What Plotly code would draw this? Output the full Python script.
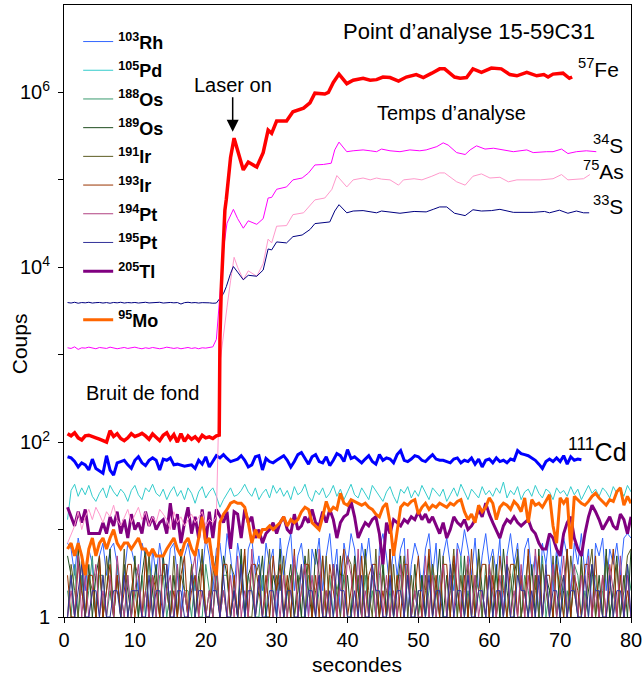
import plotly.graph_objects as go

# ---------------- time grid (s) ----------------
t = [0.5 * i for i in range(1, 161)]  # 0.5 ... 80.0

# ---------------- main signals ----------------
fe_bg = [125, 118, 128, 112, 106, 118, 120, 117, 112, 108, 104, 100, 135, 116, 125, 110, 104, 112, 125, 116,
         120, 126, 118, 108, 124, 112, 104, 120, 128, 108, 122, 100, 125, 102, 118, 108, 115, 104, 120, 112,
         115, 110, 118]
fe_sig_t = [21.9, 22.0, 22.2, 22.7, 22.9, 23.5, 24.0, 24.5, 25.3, 26.0, 27.2, 28.1, 28.8, 29.3, 30.0, 31.4,
            32.3, 33.8, 34.7, 35.4, 36.8, 37.3, 38.0, 38.8, 39.9, 40.8, 42.2, 43.2, 44.1, 45.0, 46.0, 47.2,
            48.3, 49.7, 50.7, 51.9, 53.0, 53.7, 55.1, 55.9, 56.8, 57.7, 58.9, 60.3, 61.7, 62.9, 63.9, 65.3,
            66.7, 67.7, 68.3, 69.0, 70.4, 71.3, 71.7]
fe_sig_v = [120, 1500, 6000, 45000, 60000, 180000, 300000, 220000, 130000, 160000, 140000, 205000, 370000,
            340000, 470000, 470000, 600000, 660000, 760000, 980000, 960000, 1000000, 1300000, 1620000,
            1260000, 1380000, 1450000, 1380000, 1400000, 1500000, 1480000, 1350000, 1500000, 1600000,
            1480000, 1660000, 1860000, 1860000, 1500000, 1450000, 1480000, 1860000, 1700000, 1900000,
            1860000, 1600000, 1550000, 1700000, 1550000, 1600000, 1500000, 1620000, 1660000, 1450000, 1500000]

s34_bg = [1200, 1180, 1230, 1150, 1200, 1190, 1220, 1190, 1170, 1210, 1200, 1180, 1220, 1200, 1170, 1190,
          1210, 1180, 1200, 1220, 1190, 1170, 1200, 1180, 1210, 1200, 1170, 1190, 1220, 1200, 1180, 1200,
          1170, 1190, 1210, 1180, 1200, 1170, 1200, 1190, 1220, 1230]
s34_sig_t = [21.5, 22.0, 22.5, 23.0, 23.9, 24.5, 25.3, 26.0, 27.2, 28.1, 28.8, 29.3, 30.0, 31.4, 32.3, 33.6,
             34.5, 35.4, 36.6, 37.7, 38.2, 38.8, 39.9, 40.8, 42.2, 43.2, 44.1, 44.8, 46.0, 47.4, 48.8, 50.2,
             51.1, 52.6, 53.5, 54.2, 55.4, 56.6, 57.3, 58.2, 59.4, 60.6, 62.0, 63.4, 65.3, 66.2, 68.1, 69.0,
             70.2, 71.1, 72.3, 73.7, 75.1]
s34_sig_v = [1500, 5000, 16000, 32000, 46000, 36000, 28000, 34000, 31000, 36000, 62000, 63000, 78000, 83000,
             100000, 105000, 120000, 148000, 150000, 155000, 220000, 270000, 210000, 215000, 220000, 215000,
             210000, 225000, 215000, 210000, 220000, 215000, 220000, 240000, 265000, 250000, 205000, 195000,
             220000, 245000, 225000, 230000, 220000, 210000, 220000, 205000, 210000, 210000, 225000, 200000,
             210000, 215000, 210000]

as75_bg = [7, 9, 11, 16, 10, 14, 17, 13, 18, 15, 12, 16, 14, 19, 13, 11, 14, 17, 12, 15, 18, 13, 16, 11, 14,
           12, 17, 15, 13, 10, 16, 12, 14, 11, 13, 15, 12, 14, 16, 11, 13, 12, 14]
as75_sig_t = [22.0, 22.5, 23.0, 23.5, 24.0, 24.5, 25.3, 26.0, 27.2, 28.1, 28.8, 29.3, 30.0, 31.4, 32.3, 33.8,
              34.5, 35.4, 36.8, 37.8, 38.5, 39.2, 39.9, 40.8, 42.2, 43.2, 44.1, 44.8, 46.0, 47.2, 47.9, 49.4,
              50.5, 51.9, 53.0, 53.7, 55.4, 56.6, 57.7, 58.9, 60.1, 61.5, 62.7, 63.9, 65.8, 67.2, 69.0, 70.2,
              71.1, 72.3, 73.3, 74.2]
as75_sig_v = [800, 1800, 3500, 7000, 13000, 10000, 7200, 9100, 7900, 11000, 21000, 19000, 29500, 30000, 40000,
              42000, 49000, 59000, 62000, 78000, 112000, 95000, 83000, 100000, 105000, 100000, 105000, 102000,
              100000, 87000, 100000, 103000, 100000, 110000, 120000, 120000, 95000, 87000, 110000, 117000,
              105000, 107000, 95000, 100000, 100000, 100000, 103000, 115000, 100000, 102000, 103000, 115000]

s33_bg = [3950, 3900, 3980, 3880, 3950, 3920, 3980, 3900, 3940, 3960, 3900, 3950, 3880, 3960, 3920, 3980,
          3900, 3950, 3920, 3960, 3900, 3940, 3980, 3910, 3950, 3930, 3980, 3900, 3940, 3960, 3920, 3950,
          3800, 3940, 3980, 3920, 3950, 3900, 3940, 3960, 3920, 3880, 3900]
s33_sig_t = [22.5, 22.9, 23.5, 23.9, 24.5, 25.3, 26.0, 27.2, 28.1, 28.8, 29.3, 30.0, 31.4, 32.3, 33.6, 34.7,
             35.4, 37.5, 38.2, 38.8, 39.9, 40.8, 42.2, 43.2, 44.1, 44.8, 46.0, 47.4, 49.4, 51.1, 52.1, 53.0,
             54.0, 55.1, 56.6, 57.7, 58.9, 60.3, 61.5, 63.4, 66.2, 67.8, 68.5, 69.9, 71.1, 72.3, 73.3, 74.1]
s33_sig_v = [5000, 6000, 8500, 10200, 8800, 7200, 8100, 7900, 9300, 16200, 15800, 19500, 19000, 22400, 23400,
             27000, 31600, 33000, 44000, 52000, 42000, 44000, 44500, 43000, 42000, 44000, 42500, 41500, 43500,
             43000, 46000, 49000, 49000, 41500, 39000, 45500, 44000, 44500, 46000, 42500, 42500, 43500, 42000,
             45000, 41500, 44000, 42000, 42000]

cd111 = [68, 66, 60, 52, 58, 55, 48, 64, 50, 47, 44, 70, 48, 42, 58, 60, 62, 55, 50, 62,
         68, 58, 54, 62, 66, 62, 48, 64, 62, 66, 55, 56, 54, 53, 54, 55, 50, 62, 56, 68,
         52, 60, 70, 66, 72, 65, 60, 62, 64, 70, 62, 52, 55, 68, 70, 48, 65, 60, 58, 62,
         66, 70, 62, 52, 60, 72, 76, 64, 56, 68, 72, 60, 58, 68, 54, 62, 74, 70, 60, 82,
         65, 68, 62, 58, 64, 70, 60, 56, 72, 62, 66, 64, 58, 72, 80, 62, 60, 64, 70, 68,
         62, 60, 66, 72, 64, 62, 62, 60, 58, 64, 66, 58, 62, 60, 66, 56, 64, 52, 62, 64,
         58, 66, 60, 62, 58, 64, 62, 80, 74, 72, 70, 66, 62, 56, 50, 60, 64, 60, 66, 60,
         70, 56, 68, 62, 64, 63]

# ---------------- background / trace elements ----------------
pd105 = [13, 28, 33, 24, 30, 25, 32, 24, 21, 26, 30, 23, 32, 27, 24, 29, 26, 21, 28, 32,
         25, 22, 30, 27, 33, 26, 24, 29, 22, 27, 31, 24, 28, 22, 30, 26, 20, 27, 31, 23,
         27, 30, 24, 18, 22, 26, 30, 24, 25, 28, 33, 27, 24, 30, 22, 26, 29, 23, 32, 26,
         30, 24, 28, 22, 31, 25, 27, 33, 24, 21, 28, 25, 30, 23, 26, 32, 24, 29, 22, 27,
         33, 25, 23, 30, 26, 22, 32, 28, 24, 21, 27, 31, 24, 20, 29, 26, 31, 23, 28, 24,
         32, 26, 22, 30, 27, 24, 29, 21, 25, 30, 24, 33, 27, 22, 29, 26, 23, 31, 25, 28,
         24, 30, 26, 35, 23, 28, 25, 31, 22, 27, 29, 24, 32, 26, 23, 29, 27, 22, 30, 26,
         28, 24, 31, 25, 29, 22, 27, 32, 26, 29, 24, 30, 27, 23, 31, 26, 29, 24, 32, 27]

tl205 = [18, 14, 11, 16, 12, 17, 9, 9, 9, 9, 12, 9, 14, 11, 16, 9, 13, 8, 15, 10,
         12, 9, 16, 11, 14, 10, 12, 13, 9, 20, 10, 15, 7, 12, 18, 9, 14, 8, 17, 7,
         16, 8, 17, 14, 12, 16, 6, 16, 15, 8, 17, 12, 14, 8, 10, 7, 9, 10, 12, 9,
         12, 14, 10, 9, 15, 10, 11, 14, 12, 17, 12, 11, 16, 12, 17, 13, 8, 12, 14, 15,
         21, 14, 8, 10, 12, 11, 13, 14, 9, 4, 12, 9, 13, 12, 11, 13, 12, 14, 13, 16,
         13, 15, 12, 14, 11, 9, 12, 8, 10, 14, 12, 11, 13, 10, 11, 13, 17, 14, 20, 15,
         12, 10, 8, 11, 13, 12, 14, 12, 11, 12, 13, 10, 9, 7, 6, 6, 9, 8, 6, 5,
         9, 12, 14, 8, 6, 5, 9, 14, 19, 16, 13, 10, 12, 14, 11, 10, 15, 13, 9, 14]

mo95 = [6, 7, 5, 7, 5, 3, 6, 8, 5, 7, 8, 6, 8, 10, 7, 6, 7, 7, 6, 7,
        8, 6, 6, 5, 6, 5, 5, 5, 6, 7, 8, 6, 5, 7, 8, 6, 5, 8, 14, 7,
        8, 4, 3, 12, 15, 17, 20, 21, 20, 20, 18, 12, 7, 10, 8, 10, 10, 11, 10, 11,
        12, 14, 11, 13, 12, 13, 16, 18, 17, 12, 11, 10, 14, 21, 16, 18, 17, 26, 20, 19,
        22, 21, 20, 19, 20, 18, 17, 15, 14, 18, 20, 12, 5, 9, 18, 20, 19, 21, 22, 15,
        18, 20, 17, 19, 18, 20, 19, 18, 20, 19, 21, 22, 16, 13, 15, 12, 19, 16, 18, 23,
        20, 13, 18, 20, 19, 17, 21, 19, 16, 23, 12, 22, 19, 20, 18, 21, 25, 11, 7, 23,
        20, 23, 6, 24, 22, 20, 19, 21, 24, 26, 23, 21, 19, 22, 21, 27, 30, 19, 24, 20]

rh103 = [7, 6, 3, 8, 5, 2, 6, 4, 1, 5, 7, 3, 6, 7, 4, 1, 3, 7, 6, 4,
         2, 7, 5, 1, 6, 3, 7, 4, 2, 6, 7, 3, 1, 5, 7, 4, 2, 6, 3, 8,
         5, 2, 6, 7, 3, 9, 5, 2, 7, 4, 1, 6, 8, 3, 5, 2, 7, 4, 6, 1,
         8, 3, 6, 9, 2, 5, 7, 3, 1, 6, 4, 8, 2, 5, 9, 3, 6, 1, 7, 4,
         9, 6, 2, 7, 4, 8, 3, 1, 6, 9, 5, 2, 7, 3, 6, 8, 1, 4, 7, 5,
         2, 6, 9, 3, 7, 1, 5, 8, 4, 2, 7, 5, 10, 6, 3, 8, 2, 5, 9, 4,
         6, 3, 8, 1, 5, 9, 4, 7, 2, 6, 8, 3, 5, 1, 7, 4, 9, 2, 6, 3,
         8, 5, 2, 7, 4, 9, 3, 6, 1, 7, 5, 8, 2, 6, 4, 7, 3, 8, 9, 8]

os188 = [2, 1, 4, 1, 3, 1, 2, 5, 1, 3, 3, 1, 2, 1, 4, 2, 1, 3, 1, 2,
         1, 3, 1, 5, 2, 1, 3, 3, 1, 2, 1, 4, 1, 2, 2, 1, 3, 1, 1, 4,
         2, 1, 3, 1, 3, 3, 1, 2, 1, 5, 1, 3, 2, 1, 1, 3, 1, 4, 2, 1,
         3, 1, 2, 1, 4, 3, 1, 1, 3, 2, 1, 2, 5, 1, 3, 1, 2, 3, 3, 1,
         1, 4, 2, 1, 3, 1, 2, 1, 3, 5, 1, 2, 1, 3, 3, 1, 4, 1, 2, 1,
         3, 1, 2, 4, 1, 3, 1, 1, 2, 3, 1, 5, 1, 2, 1, 3, 2, 1, 4, 1,
         2, 3, 1, 3, 1, 2, 4, 1, 1, 3, 2, 1, 3, 1, 5, 1, 2, 3, 1, 3,
         1, 2, 1, 4, 3, 1, 2, 1, 3, 3, 1, 2, 5, 1, 2, 1, 3, 1, 4, 2]

os189 = [5, 3, 1, 6, 2, 1, 4, 1, 3, 5, 1, 2, 6, 1, 3, 1, 4, 2, 1, 5,
         1, 3, 6, 1, 2, 4, 1, 5, 2, 1, 3, 1, 6, 2, 1, 4, 1, 3, 5, 1,
         2, 1, 4, 1, 5, 3, 1, 2, 1, 6, 1, 3, 4, 1, 2, 5, 1, 1, 3, 2,
         6, 1, 2, 4, 1, 3, 1, 5, 2, 1, 6, 3, 1, 2, 1, 4, 1, 5, 1, 3,
         1, 5, 2, 1, 6, 1, 3, 2, 1, 4, 1, 6, 1, 2, 5, 1, 3, 1, 4, 1,
         3, 1, 5, 1, 2, 6, 1, 3, 1, 4, 2, 1, 5, 1, 3, 1, 6, 2, 1, 4,
         1, 4, 1, 6, 2, 1, 3, 5, 1, 2, 1, 4, 1, 6, 1, 3, 2, 1, 5, 1,
         2, 6, 1, 3, 1, 5, 1, 2, 4, 1, 3, 1, 6, 1, 2, 5, 1, 3, 1, 6]

ir191 = [1, 4, 2, 1, 5, 1, 3, 2, 1, 4, 1, 5, 2, 1, 3, 1, 6, 1, 2, 4,
         3, 1, 2, 5, 1, 3, 1, 4, 2, 1, 5, 1, 3, 2, 1, 4, 1, 2, 6, 1,
         1, 3, 5, 1, 2, 1, 4, 3, 1, 2, 5, 1, 1, 3, 4, 1, 2, 6, 1, 3,
         2, 5, 1, 3, 1, 2, 4, 1, 6, 1, 2, 3, 1, 5, 1, 4, 2, 1, 3, 5,
         4, 1, 3, 1, 5, 2, 1, 6, 1, 3, 2, 1, 4, 1, 2, 5, 1, 3, 1, 2,
         1, 3, 1, 4, 2, 1, 5, 1, 2, 6, 1, 3, 1, 4, 1, 2, 5, 1, 3, 1,
         5, 1, 2, 1, 4, 3, 1, 6, 1, 2, 5, 1, 3, 1, 4, 2, 1, 5, 1, 2,
         3, 1, 5, 2, 1, 4, 1, 3, 6, 1, 2, 1, 5, 3, 1, 4, 1, 2, 5, 6]

ir193 = [3, 1, 1, 4, 2, 1, 3, 3, 1, 5, 1, 2, 4, 1, 3, 1, 2, 4, 4, 1,
         2, 1, 5, 1, 3, 2, 1, 4, 4, 1, 2, 1, 3, 5, 1, 2, 3, 1, 4, 1,
         1, 5, 2, 1, 4, 4, 1, 3, 1, 2, 6, 1, 4, 4, 2, 1, 3, 1, 5, 2,
         4, 1, 3, 1, 6, 1, 2, 4, 4, 1, 3, 1, 5, 1, 4, 2, 1, 3, 6, 1,
         2, 4, 1, 5, 1, 3, 4, 4, 1, 2, 1, 6, 1, 3, 1, 4, 4, 1, 2, 5,
         1, 2, 6, 1, 3, 1, 4, 4, 1, 5, 2, 1, 3, 1, 6, 1, 2, 4, 4, 1,
         3, 1, 5, 2, 1, 4, 4, 1, 3, 1, 6, 1, 2, 5, 1, 3, 3, 1, 4, 2,
         1, 6, 1, 3, 2, 1, 4, 4, 1, 5, 1, 3, 1, 2, 6, 1, 3, 1, 2, 1]

pt194 = [1, 2, 1, 5, 1, 3, 1, 2, 4, 1, 2, 1, 3, 1, 5, 2, 1, 3, 1, 2,
         4, 1, 2, 1, 3, 1, 5, 1, 2, 3, 1, 4, 1, 2, 1, 3, 5, 1, 2, 1,
         2, 1, 4, 1, 2, 1, 3, 1, 5, 1, 2, 1, 6, 1, 3, 1, 2, 4, 1, 2,
         1, 3, 1, 2, 5, 1, 2, 4, 1, 3, 1, 6, 1, 2, 1, 4, 1, 3, 1, 5,
         3, 1, 6, 1, 2, 1, 4, 1, 5, 1, 3, 1, 2, 1, 4, 1, 6, 1, 2, 1,
         1, 5, 1, 3, 1, 2, 4, 1, 3, 1, 6, 1, 2, 5, 1, 3, 1, 2, 1, 4,
         2, 1, 3, 1, 5, 1, 2, 1, 4, 1, 3, 1, 6, 2, 1, 3, 1, 4, 1, 2,
         5, 1, 2, 4, 1, 3, 1, 5, 1, 2, 1, 3, 1, 4, 2, 1, 5, 1, 3, 1]

pt195 = [1, 3, 1, 2, 4, 1, 1, 2, 2, 1, 3, 1, 1, 2, 2, 1, 3, 1, 2, 2,
         2, 1, 1, 3, 1, 2, 2, 1, 4, 1, 1, 2, 2, 1, 1, 3, 1, 2, 2, 1,
         1, 2, 2, 1, 3, 1, 1, 2, 1, 4, 1, 2, 2, 1, 3, 1, 1, 2, 2, 1,
         3, 1, 2, 2, 1, 1, 4, 1, 2, 2, 1, 3, 1, 1, 2, 1, 4, 2, 2, 1,
         1, 2, 1, 3, 1, 1, 4, 2, 2, 1, 1, 3, 1, 2, 2, 1, 3, 1, 1, 2,
         2, 1, 3, 1, 2, 2, 1, 1, 4, 1, 2, 2, 1, 3, 1, 1, 2, 2, 1, 3,
         1, 2, 2, 1, 4, 1, 1, 3, 2, 2, 1, 2, 1, 3, 1, 4, 1, 2, 2, 1,
         3, 1, 2, 2, 1, 1, 3, 1, 4, 2, 2, 1, 1, 3, 1, 2, 2, 1, 4, 1]

# ---------------- labels ----------------
x_ticks = [0, 10, 20, 30, 40, 50, 60, 70, 80]
y_tickvals = [1, 100, 10000, 1000000]
y_ticktext = ["1", "10<sup>2</sup>", "10<sup>4</sup>", "10<sup>6</sup>"]
y_minor_vals = [10, 1000, 100000]

FONT = "Liberation Sans, Arial, sans-serif"

fig = go.Figure()

low_series = [
    ("<b><sup>188</sup>Os</b>", os188, "#3a9a6e"),
    ("<b><sup>189</sup>Os</b>", os189, "#1e4d1e"),
    ("<b><sup>191</sup>Ir</b>", ir191, "#5c5c22"),
    ("<b><sup>193</sup>Ir</b>", ir193, "#993300"),
    ("<b><sup>194</sup>Pt</b>", pt194, "#b04080"),
    ("<b><sup>195</sup>Pt</b>", pt195, "#333399"),
]

fig.add_trace(go.Scatter(x=t, y=rh103, mode="lines", name="<b><sup>103</sup>Rh</b>",
                         legendgroup="g01", legendrank=1, line=dict(color="#3366ff", width=1)))
for i, (nm, vals, col) in enumerate(low_series):
    fig.add_trace(go.Scatter(x=t, y=vals, mode="lines", name=nm, legendgroup="g%02d" % (3 + i),
                             legendrank=3 + i, line=dict(color=col, width=1)))
fig.add_trace(go.Scatter(x=t, y=pd105, mode="lines", name="<b><sup>105</sup>Pd</b>",
                         legendgroup="g02", legendrank=2, line=dict(color="#33cccc", width=1)))
fig.add_trace(go.Scatter(x=t, y=tl205, mode="lines", name="<b><sup>205</sup>Tl</b>",
                         legendgroup="g10", legendrank=10, line=dict(color="#800080", width=3)))
fig.add_trace(go.Scatter(x=t, y=mo95, mode="lines", name="<b><sup>95</sup>Mo</b>",
                         legend="legend2", line=dict(color="#ff6600", width=3)))
fig.add_trace(go.Scatter(x=t[:len(cd111)], y=cd111, mode="lines", showlegend=False,
                         line=dict(color="#0000ff", width=3)))

fig.add_trace(go.Scatter(x=t[:len(as75_bg)] + as75_sig_t, y=as75_bg + as75_sig_v, mode="lines",
                         showlegend=False, line=dict(color="#ff99cc", width=1)))
fig.add_trace(go.Scatter(x=t[:len(s33_bg)] + s33_sig_t, y=s33_bg + s33_sig_v, mode="lines",
                         showlegend=False, line=dict(color="#000080", width=1)))
fig.add_trace(go.Scatter(x=t[:len(s34_bg)] + s34_sig_t, y=s34_bg + s34_sig_v, mode="lines",
                         showlegend=False, line=dict(color="#ff00ff", width=1)))
fig.add_trace(go.Scatter(x=t[:len(fe_bg)] + fe_sig_t, y=fe_bg + fe_sig_v, mode="lines",
                         showlegend=False, line=dict(color="#ff0000", width=3.5)))

ann = [
    dict(x=57.1, y=6.70, text="Point d’analyse 15-59C31", size=22, xanchor="center"),
    dict(x=54.7, y=5.77, text="Temps d’analyse", size=20, xanchor="center"),
    dict(x=11.1, y=2.56, text="Bruit de fond", size=20, xanchor="center"),
    dict(x=72.3, y=6.28, text="<sup>57</sup>Fe", size=21, xanchor="left"),
    dict(x=74.4, y=5.41, text="<sup>34</sup>S", size=21, xanchor="left"),
    dict(x=72.9, y=5.11, text="<sup>75</sup>As", size=21, xanchor="left"),
    dict(x=74.4, y=4.71, text="<sup>33</sup>S", size=21, xanchor="left"),
    dict(x=70.8, y=1.91, text="<sup>111</sup>Cd", size=25, xanchor="left"),
]
for a in ann:
    fig.add_annotation(x=a["x"], y=a["y"], xref="x", yref="y", text=a["text"], showarrow=False,
                       xanchor=a["xanchor"], yanchor="middle",
                       font=dict(family=FONT, size=a["size"], color="black"))

fig.add_annotation(x=23.8, y=5.55, xref="x", yref="y", text="Laser on", showarrow=True,
                   ax=0, ay=-47, arrowhead=2, arrowsize=1.6, arrowwidth=1.5, arrowcolor="black",
                   font=dict(family=FONT, size=20, color="black"))

# axis titles
fig.add_annotation(x=-0.079, y=0.446, xref="paper", yref="paper", text="Coups", textangle=-90,
                   showarrow=False, xanchor="center", yanchor="middle",
                   font=dict(family=FONT, size=21, color="black"))
fig.add_annotation(x=0.517, y=-0.078, xref="paper", yref="paper", text="secondes",
                   showarrow=False, xanchor="center", yanchor="middle",
                   font=dict(family=FONT, size=21, color="black"))

fig.update_layout(
    width=644, height=677,
    margin=dict(l=64, r=13, t=5, b=60, autoexpand=False),
    paper_bgcolor="white", plot_bgcolor="white",
    font=dict(family=FONT, color="black"),
    legend=dict(x=0.025, y=0.970, xanchor="left", yanchor="top", bgcolor="rgba(0,0,0,0)",
                font=dict(family=FONT, size=18, color="black"), traceorder="grouped",
                tracegroupgap=2.3),
    legend2=dict(x=0.025, y=0.5155, xanchor="left", yanchor="top", bgcolor="rgba(0,0,0,0)",
                 font=dict(family=FONT, size=18, color="black")),
    xaxis=dict(range=[0, 80], tickvals=x_ticks, ticks="outside", ticklen=5, tickcolor="black",
               showline=True, linecolor="black", linewidth=1, mirror=True, showgrid=False, zeroline=False,
               automargin=False, tickfont=dict(family=FONT, size=20, color="black")),
    yaxis=dict(type="log", range=[0, 7], tickvals=y_tickvals, ticktext=y_ticktext, ticks="outside",
               ticklen=5, tickcolor="black", showline=True, linecolor="black", linewidth=1, mirror=True,
               showgrid=False, zeroline=False, automargin=False, ticklabelstandoff=4,
               minor=dict(tickvals=y_minor_vals, ticks="outside", ticklen=5, tickcolor="black", showgrid=False),
               tickfont=dict(family=FONT, size=20, color="black")),
)

fig.write_html("out.html", config={"displayModeBar": False},
               post_script="document.body.style.margin='0px';")
